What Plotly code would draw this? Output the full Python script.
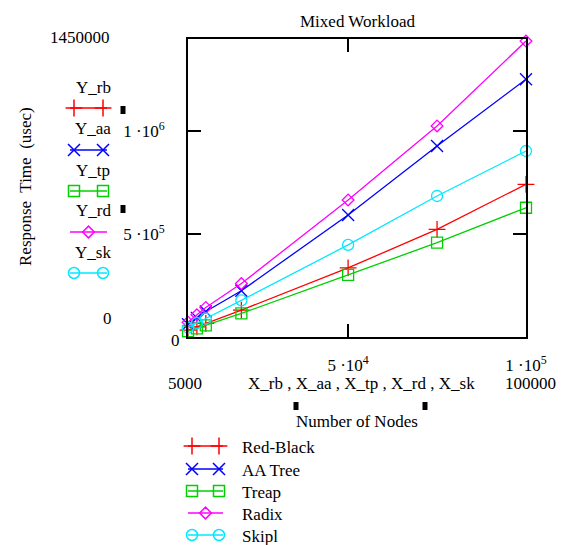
import plotly.graph_objects as go

# Figure size in pixels
W, H = 571, 545

# ---- data -------------------------------------------------------------
nodes = [5000, 7500, 10000, 20000, 50000, 75000, 100000]

y_rb = [33000, 49000, 66000, 131000, 336000, 524000, 743000]
y_aa = [62000, 93000, 124000, 225000, 594000, 929000, 1254000]
y_tp = [28000, 42000, 57000, 115000, 302000, 459000, 629000]
y_rd = [72000, 108000, 144000, 260000, 667000, 1027000, 1440000]
y_sk = [45000, 68000, 90000, 178000, 448000, 686000, 905000]

series_values = [y_rb, y_aa, y_tp, y_rd, y_sk]
series_names = ["Red-Black", "AA Tree", "Treap", "Radix", "Skipl"]
y_vars = ["Y_rb", "Y_aa", "Y_tp", "Y_rd", "Y_sk"]
x_vars = ["X_rb", "X_aa", "X_tp", "X_rd", "X_sk"]

x_limits = [5000, 100000]
y_limits = [0, 1450000]
x_tick_vals = [50000, 100000]
x_tick_text = ["5 \u00b710<sup>4</sup>", "1 \u00b710<sup>5</sup>"]
y_tick_vals = [500000, 1000000]
y_tick_text = ["5 \u00b710<sup>5</sup>", "1 \u00b710<sup>6</sup>"]

# ---- styles -----------------------------------------------------------
colors = ["#ff0000", "#0000ff", "#00d000", "#ff00ff", "#00e8ff"]
symbols = ["cross-thin-open", "x-thin-open", "square-open", "diamond-open", "circle-open"]
sizes = [12, 12, 11, 9, 11]
FONT = "Times New Roman, Liberation Serif, DejaVu Serif, serif"
FS = 17
TXT = "#000000"

# plot area in pixels
PL, PR, PT, PB = 188, 526, 39, 337

fig = go.Figure()

for vals, name, col, sym, sz in zip(series_values, series_names, colors, symbols, sizes):
    fig.add_trace(go.Scatter(
        x=nodes, y=vals, name=name, mode="lines+markers",
        line=dict(color=col, width=1.3),
        marker=dict(symbol=sym, size=sz, color=col, line=dict(color=col, width=1.3)),
        showlegend=False, cliponaxis=False, xaxis="x", yaxis="y",
    ))


def glyph(x0, x1, yc, i):
    """Legend sample: a short line with the series marker."""
    if symbols[i] == "diamond-open":
        mx = [(x0 + x1) / 2]
    else:
        mx = [x0 + 4, x1 - 4]
    fig.add_trace(go.Scatter(
        x=[x0, x1], y=[yc, yc], mode="lines", line=dict(color=colors[i], width=1.5),
        showlegend=False, hoverinfo="skip", xaxis="x2", yaxis="y2"))
    fig.add_trace(go.Scatter(
        x=mx, y=[yc] * len(mx), mode="markers",
        marker=dict(symbol=symbols[i], size=sizes[i], color=colors[i],
                    line=dict(color=colors[i], width=1.5)),
        showlegend=False, hoverinfo="skip", xaxis="x2", yaxis="y2"))


annotations = []


def label(txt, x, y, anchor="center", angle=0, size=FS):
    annotations.append(dict(
        text=txt, x=x, y=y, xref="x2", yref="y2", showarrow=False,
        xanchor=anchor, yanchor="middle", textangle=angle,
        font=dict(family=FONT, size=size, color=TXT)))


# left column: y expressions with their traces
left_label_y = [87, 128, 170, 210, 252]
left_glyph_y = [108, 150, 191, 232, 273]
for i in range(5):
    label(y_vars[i], 93, left_label_y[i])
    glyph(70, 107, left_glyph_y[i], i)

label(f"{y_limits[1]}", 80, 37)
label(f"{y_limits[0]}", 107, 318)
label("0", 175, 340)
label("Response  Time  (usec)", 25, 187, angle=-90)

# x-axis captions
label("Mixed Workload", 357, 21)
label(f"{x_limits[0]}", 185, 383)
label(f"{x_limits[1]}", 530, 383)
label(" , ".join(x_vars), 361, 383)
label("Number of Nodes", 357, 421)

# bottom legend
legend_y = [446, 469, 491, 513, 535]
for i in range(5):
    glyph(188, 223, legend_y[i], i)
    label(series_names[i], 240, legend_y[i] + 1, anchor="left")

# small black placeholders
shapes = []
for (cx, cy) in [(123, 110), (123, 209), (296, 406), (425, 406)]:
    shapes.append(dict(type="rect", xref="x2", yref="y2",
                       x0=cx - 2.5, x1=cx + 2.5, y0=cy - 4, y1=cy + 4,
                       fillcolor="black", line=dict(width=0)))

axis_common = dict(
    showgrid=False, zeroline=False, showline=True, linecolor="black", linewidth=2,
    mirror="ticks", ticks="inside", ticklen=13, tickwidth=2, tickcolor="black",
    tickfont=dict(family=FONT, size=FS, color=TXT), automargin=False,
)

fig.update_layout(
    width=W, height=H,
    margin=dict(l=0, r=0, t=0, b=0),
    paper_bgcolor="white", plot_bgcolor="rgba(0,0,0,0)",
    xaxis=dict(domain=[PL / W, PR / W], range=x_limits, tickmode="array",
               tickvals=x_tick_vals, ticktext=x_tick_text, ticklabelstandoff=12,
               anchor="y", **axis_common),
    yaxis=dict(domain=[1 - PB / H, 1 - PT / H], range=y_limits, tickmode="array",
               tickvals=y_tick_vals, ticktext=y_tick_text, ticklabelstandoff=18,
               anchor="x", **axis_common),
    xaxis2=dict(domain=[0, 1], range=[0, W], visible=False, anchor="y2", fixedrange=True),
    yaxis2=dict(domain=[0, 1], range=[H, 0], visible=False, anchor="x2", fixedrange=True),
    annotations=annotations, shapes=shapes,
    showlegend=False,
)

fig.write_html("out.html")
